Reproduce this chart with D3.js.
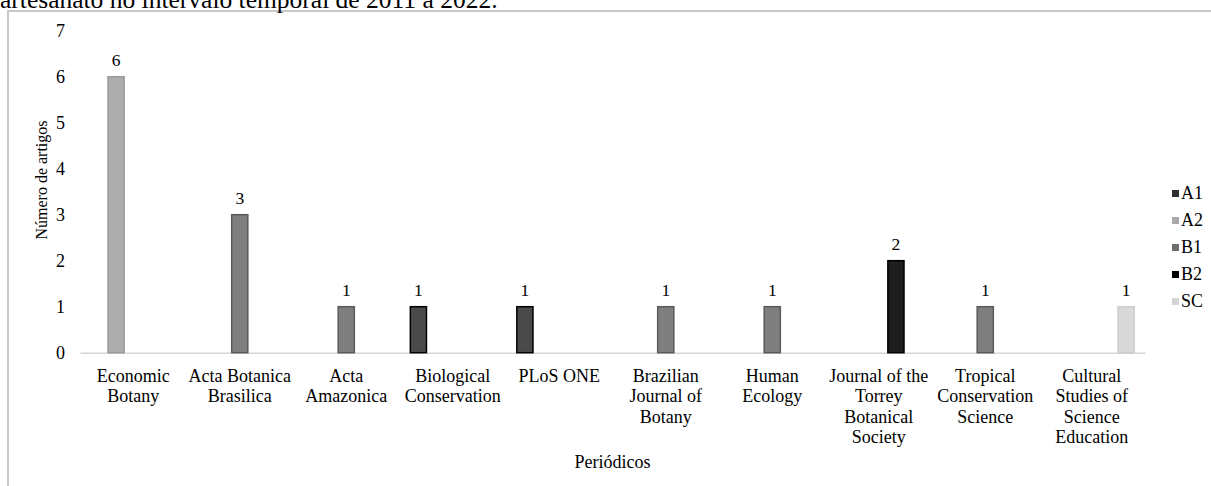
<!DOCTYPE html>
<html>
<head>
<meta charset="utf-8">
<script src="https://cdn.jsdelivr.net/npm/d3@7"></script>
<style>
  body { margin: 0; background: #fff; }
  svg { display: block; font-family: "Liberation Serif", "Times New Roman", serif; }
</style>
</head>
<body>
<div id="chart"></div>
<script>
// data
var journals = ["Economic Botany", "Acta Botanica Brasilica", "Acta Amazonica", "Biological Conservation",
    "PLoS ONE", "Brazilian Journal of Botany", "Human Ecology", "Journal of the Torrey Botanical Society",
    "Tropical Conservation Science", "Cultural Studies of Science Education"];
var journalLines = [["Economic", "Botany"], ["Acta Botanica", "Brasilica"], ["Acta", "Amazonica"],
    ["Biological", "Conservation"], ["PLoS ONE"], ["Brazilian", "Journal of", "Botany"], ["Human", "Ecology"],
    ["Journal of the", "Torrey", "Botanical", "Society"], ["Tropical", "Conservation", "Science"],
    ["Cultural", "Studies of", "Science", "Education"]];
var qualis = ["A1", "A2", "B1", "B2", "SC"];
var journalQualis = ["A2", "B1", "B1", "A1", "A1", "B1", "B1", "B2", "B1", "SC"];
var articles = [6, 3, 1, 1, 1, 1, 1, 2, 1, 1];
var yTicks = [0, 1, 2, 3, 4, 5, 6, 7];

var fills = {A1: "#4a4a4a", A2: "#adadad", B1: "#7f7f7f", B2: "#1e1e1e", SC: "#d9d9d9"};
var edges = {A1: "#000", A2: "#9a9a9a", B1: "#5a5a5a", B2: "#000", SC: "#cdcdcd"};
var keys = {A1: "#2e2e2e", A2: "#a9a9a9", B1: "#6e6e6e", B2: "#000", SC: "#d4d4d4"};

var W = 1211, H = 486;
var svg = d3.select("#chart").append("svg")
    .attr("width", W)
    .attr("height", H);

// frame and clipped caption
svg.append("rect")
    .attr("x", 8).attr("y", 11)
    .attr("width", 1240).attr("height", 520)
    .attr("fill", "none")
    .attr("stroke", "#c8c8c8")
    .attr("stroke-width", 2);

svg.append("text")
    .attr("x", 0).attr("y", 8)
    .attr("font-size", 25.5)
    .text("artesanato no intervalo temporal de 2011 a 2022.");

var plotLeft = 80, plotRight = 1145, plotTop = 30.7, plotBottom = 352.7;

var x0 = d3.scaleBand().domain(journals).range([plotLeft, plotRight]).padding(0);
var x1 = d3.scaleBand().domain(qualis).range([0, x0.bandwidth()])
    .paddingOuter(0.63).paddingInner(0.06);
var y = d3.scaleLinear().domain([0, 7]).range([plotBottom, plotTop]);

// y axis
var yAxis = svg.append("g")
    .attr("transform", "translate(" + plotLeft + ",0)")
    .call(d3.axisLeft(y).tickValues(yTicks).tickSize(0).tickPadding(15).tickFormat(d3.format("d")));
yAxis.select(".domain").remove();
yAxis.selectAll("text")
    .attr("font-family", "Liberation Serif")
    .attr("font-size", 18)
    .attr("fill", "#000");

// x axis
var xAxis = svg.append("g")
    .attr("transform", "translate(0," + plotBottom + ")")
    .call(d3.axisBottom(x0).tickSize(0).tickSizeOuter(0).tickFormat(""));
xAxis.select(".domain").attr("stroke", "#d6d6d6").attr("stroke-width", 1.5);

xAxis.selectAll(".tick text").remove();
xAxis.selectAll(".tick").each(function(d, i) {
    var t = d3.select(this).append("text")
        .attr("fill", "#000")
        .attr("font-family", "Liberation Serif")
        .attr("font-size", 18)
        .attr("text-anchor", "middle")
        .attr("y", 29);
    journalLines[i].forEach(function(line, k) {
        t.append("tspan").attr("x", 0).attr("dy", k === 0 ? 0 : 20.5).text(line);
    });
});

// bars
svg.append("g").selectAll("rect")
    .data(journals)
    .enter().append("rect")
    .attr("x", function(d, i) { return x0(d) + x1(journalQualis[i]); })
    .attr("y", function(d, i) { return y(articles[i]); })
    .attr("width", x1.bandwidth())
    .attr("height", function(d, i) { return plotBottom - y(articles[i]); })
    .attr("fill", function(d, i) { return fills[journalQualis[i]]; })
    .attr("stroke", function(d, i) { return edges[journalQualis[i]]; })
    .attr("stroke-width", 1.5);

svg.append("g").selectAll("text")
    .data(journals)
    .enter().append("text")
    .attr("x", function(d, i) { return x0(d) + x1(journalQualis[i]) + x1.bandwidth() / 2; })
    .attr("y", function(d, i) { return y(articles[i]) - 11; })
    .attr("text-anchor", "middle")
    .attr("font-size", 17.5)
    .text(function(d, i) { return articles[i]; });

// axis titles
svg.append("text")
    .attr("x", (plotLeft + plotRight) / 2)
    .attr("y", 468)
    .attr("text-anchor", "middle")
    .attr("font-size", 18)
    .text("Periódicos");

svg.append("text")
    .attr("transform", "translate(47,180) rotate(-90)")
    .attr("text-anchor", "middle")
    .attr("font-size", 16)
    .text("Número de artigos");

// legend
var legend = svg.append("g").selectAll("g")
    .data(qualis)
    .enter().append("g")
    .attr("transform", function(d, i) { return "translate(1172," + (194 + i * 27) + ")"; });
legend.append("rect")
    .attr("x", 0).attr("y", -4)
    .attr("width", 7).attr("height", 7)
    .attr("fill", function(d) { return keys[d]; });
legend.append("text")
    .attr("x", 9).attr("y", 5)
    .attr("font-size", 18)
    .text(function(d) { return d; });
</script>
</body>
</html>
